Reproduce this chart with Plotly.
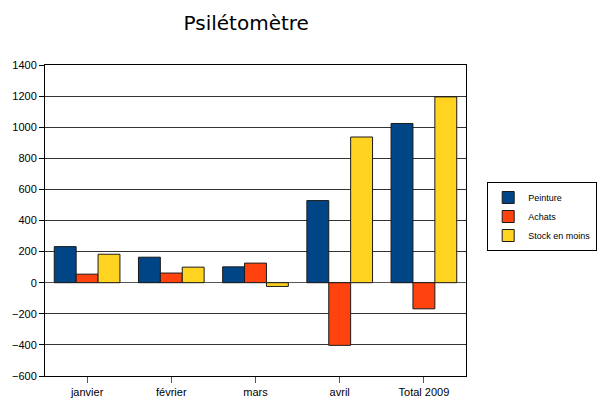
import plotly.graph_objects as go

categories = ["janvier", "février", "mars", "avril", "Total 2009"]
peinture = [232, 164, 102, 528, 1024]
achats = [55, 62, 126, -403, -168]
stock = [183, 100, -24, 937, 1195]
y_ticks = list(range(-600, 1401, 200))

fig = go.Figure()
for name, vals, col in [("Peinture", peinture, "#004586"),
                        ("Achats", achats, "#ff420e"),
                        ("Stock en moins", stock, "#ffd320")]:
    fig.add_trace(go.Bar(x=categories, y=vals, name=name,
                         marker=dict(color=col, line=dict(color="#1a1a1a", width=1))))

fig.update_layout(
    width=600, height=410,
    margin=dict(l=42, r=134, t=65, b=32),
    paper_bgcolor="white", plot_bgcolor="white",
    barmode="group", bargap=0.22, bargroupgap=0,
    font=dict(family="Liberation Sans, Arial, sans-serif", size=11, color="#000000"),
    title=dict(text="Psilétomètre", x=0.478, xanchor="center", y=0.945, yanchor="middle",
               xref="paper", yref="container",
               font=dict(size=20, family="DejaVu Sans, sans-serif", color="#000")),
    legend=dict(xref="container", yref="container", x=0.812, y=1 - 182 / 410,
                xanchor="left", yanchor="top", bordercolor="#000", borderwidth=1,
                font=dict(size=9, family="Liberation Sans, Arial, sans-serif"),
                itemwidth=30, tracegroupgap=0, bgcolor="white"),
    showlegend=True,
)
fig.update_yaxes(range=[-600, 1400], tickvals=y_ticks, showgrid=True,
                 gridcolor="#333333", gridwidth=1, zeroline=True, zerolinecolor="#555555",
                 zerolinewidth=1,
                 showline=True, linecolor="#000", linewidth=1, mirror=True,
                 ticks="outside", ticklen=5, tickcolor="#000",
                 tickfont=dict(size=11))
fig.update_xaxes(showline=True, linecolor="#000", linewidth=1, mirror=True,
                 ticks="outside", ticklen=6, tickcolor="#555",
                 tickfont=dict(size=11), tickson="labels")

fig.write_html("out.html")
